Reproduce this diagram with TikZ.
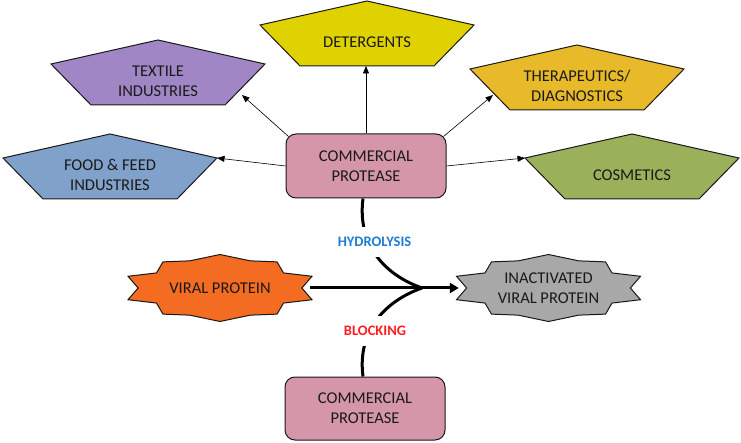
\documentclass[tikz,border=0pt]{standalone}
\usepackage{fontspec}
\setmainfont{Carlito}
\usetikzlibrary{arrows.meta}
\definecolor{cTextile}{HTML}{A086C4}
\definecolor{cFood}{HTML}{80A2CA}
\definecolor{cDet}{HTML}{DFD200}
\definecolor{cThera}{HTML}{E8BA2A}
\definecolor{cCos}{HTML}{9BB05A}
\definecolor{cProt}{HTML}{D496A8}
\definecolor{cViral}{HTML}{F46C22}
\definecolor{cInact}{HTML}{A8A8A8}
\definecolor{cHydro}{HTML}{1E7DD2}
\definecolor{cBlock}{HTML}{FF1E1E}
\definecolor{cText}{HTML}{1A1A1A}
\newcommand\pentashape[5]{%
  \draw[shapeline, fill=#4] (#2,#3) -- ++(107,24) -- ++(-40,41) -- ++(-134,0) -- ++(-40,-41) -- cycle;
  \node[pentlabel] (#1) at (#2,#3+41) {#5};
}
\newcommand\sealshape[3]{%
  \draw[shapeline, fill=#3, shift={(#1,#2)}, x=92pt, y=33.5pt]
    (0,-1) -- (0.33,-0.81) -- (0.62,-0.78) -- (0.69,-0.45) -- (1,-0.35) -- (0.89,0) --
    (1,0.35) -- (0.69,0.45) -- (0.62,0.78) -- (0.33,0.81) -- (0,1) -- (-0.33,0.81) --
    (-0.62,0.78) -- (-0.69,0.45) -- (-1,0.35) -- (-0.89,0) -- (-1,-0.35) -- (-0.69,-0.45) --
    (-0.62,-0.78) -- (-0.33,-0.81) -- cycle;
}
\begin{document}
\begin{tikzpicture}[x=1pt,y=-1pt,
  shapeline/.style={draw=black!90, line width=1pt, line join=miter},
  labelfont/.style={font=\fontsize{16.5}{20}\selectfont, text=cText},
  pentlabel/.style={labelfont, align=center, inner sep=0pt},
  protbox/.style={shapeline, fill=cProt, rounded corners=10pt, minimum width=160pt, minimum height=64pt,
    align=center, labelfont, inner sep=0pt},
  starlabel/.style={align=center, labelfont, inner sep=0pt,
    minimum width=183pt, minimum height=67pt},
  thinarrow/.style={line width=0.6pt, -{Triangle[length=7.5pt,width=6pt]}},
  thickcurve/.style={line width=3pt},
  mainarrow/.style={line width=3pt, -{Triangle[length=9pt,width=10pt]}},
  proclabel/.style={fill=white, font=\bfseries\fontsize{14.5}{17}\selectfont, inner xsep=2pt, inner ysep=10pt}
]
\useasboundingbox (0,0) rectangle (741,443);

% pentagons
\pentashape{textile}{158}{40}{cTextile}{TEXTILE\\INDUSTRIES}
\pentashape{food}{110}{134}{cFood}{FOOD \& FEED\\INDUSTRIES}
\pentashape{det}{367}{1}{cDet}{DETERGENTS}
\pentashape{thera}{577}{45}{cThera}{THERAPEUTICS/\\DIAGNOSTICS}
\pentashape{cos}{632}{134}{cCos}{COSMETICS}

% arrow tips on pentagon borders
\coordinate (textiletip) at (242,95);
\coordinate (foodtip) at (217,158);
\coordinate (dettip) at (366,66);
\coordinate (theratip) at (493,95);
\coordinate (costip) at (525,158);

% protease boxes
\node[protbox] (prot) at (366,166) {COMMERCIAL\\PROTEASE};
\node[protbox, minimum height=63pt] (prot2) at (365,408.5) {COMMERCIAL\\PROTEASE};

% thin arrows
\draw[thinarrow] ([shift={(3,3)}]prot.north west) -- (textiletip);
\draw[thinarrow] (prot.west) -- (foodtip);
\draw[thinarrow] (prot.north) -- (dettip);
\draw[thinarrow] ([shift={(-3,3)}]prot.north east) -- (theratip);
\draw[thinarrow] (prot.east) -- (costip);

% stars
\sealshape{220}{288}{cViral}
\node[starlabel] (vp) at (220,288) {VIRAL PROTEIN};
\sealshape{548.5}{288}{cInact}
\node[starlabel] (ivp) at (548.5,288) {INACTIVATED\\VIRAL PROTEIN};

% curves and main arrow
\coordinate (merge) at (422,288);
\draw[thickcurve] ([xshift=-3pt]prot.south) .. controls (357,245) and (385,275) .. (merge);
\draw[thickcurve] ([xshift=-2pt]prot2.north) .. controls (357,331) and (385,301) .. (merge);
\draw[mainarrow] ([xshift=-2pt]vp.east) -- ([xshift=2pt]ivp.west);

\node[proclabel, text=cHydro] (hydro) at (374.5,242) {HYDROLYSIS};
\node[proclabel, text=cBlock] (block) at (375,331) {BLOCKING};
\end{tikzpicture}
\end{document}
